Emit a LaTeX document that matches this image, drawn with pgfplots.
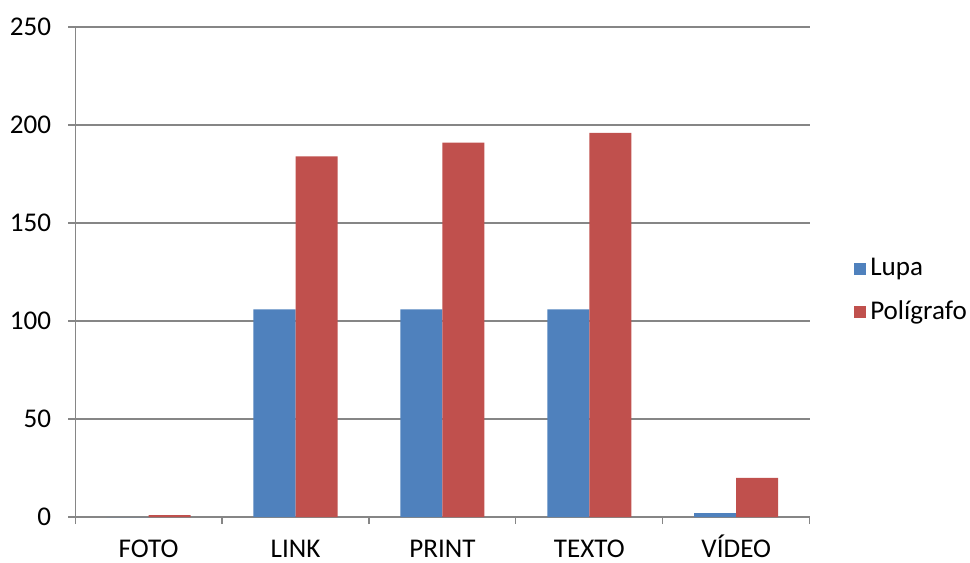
\documentclass[border=0pt]{standalone}
\usepackage{pgfplots}
\pgfplotsset{compat=1.18}
\usepackage{fontspec}
\setmainfont{Carlito}
\usetikzlibrary{calc}
\definecolor{lupa}{HTML}{4F81BD}
\definecolor{poli}{HTML}{C0504D}
\definecolor{gridc}{HTML}{868686}
\begin{document}
\begin{tikzpicture}
\begin{axis}[
  name=ax,
  scale only axis,
  width=366.5bp, height=244.5bp,
  ybar, bar width=0.286,
  xmin=-0.5, xmax=4.5,
  ymin=0, ymax=250,
  xtick={0,1,2,3,4},
  xticklabels={FOTO,LINK,PRINT,TEXTO,VÍDEO},
  minor xtick={-0.5,0.5,1.5,2.5,3.5,4.5},
  ytick={0,50,100,150,200,250},
  major x tick style={draw=none},
  minor x tick style={draw=gridc, line width=0.6pt},
  y tick style={draw=gridc, line width=0.6pt},
  tick align=outside,
  minor tick length=3.5bp, major tick length=3.5bp,
  ymajorgrids, grid style={gridc, line width=0.6pt},
  axis x line*=bottom, axis y line*=left,
  axis line style={draw=gridc, line width=0.6pt, -},
  /pgf/number format/assume math mode=true,
  tick label style={font=\fontsize{13.5bp}{16bp}\selectfont},
  xticklabel style={yshift=-3.5bp, text height=9.5bp, text depth=0pt, anchor=north},
  yticklabel style={xshift=-5bp},
  legend cell align=left,
  legend style={draw=none, at={(1.052,0.462)}, anchor=west,
    font=\fontsize{13.5bp}{16bp}\selectfont, row sep=7bp,
    /tikz/every even column/.append style={column sep=0pt}},
  legend image code/.code={\fill[#1] (0bp,-3bp) rectangle (6bp,3bp);},
]
\addplot[fill=lupa, draw=none, bar shift=-0.143] coordinates {(0,0) (1,106) (2,106) (3,106) (4,2)};
\addplot[fill=poli, draw=none, bar shift=0.143] coordinates {(0,1) (1,184) (2,191) (3,196) (4,20)};
\legend{Lupa,Polígrafo}
\end{axis}
\pgfresetboundingbox
\path ($(ax.south west)+(-37.5bp,-22.5bp)$) rectangle ($(ax.north east)+(80bp,13.5bp)$);
\end{tikzpicture}
\end{document}
